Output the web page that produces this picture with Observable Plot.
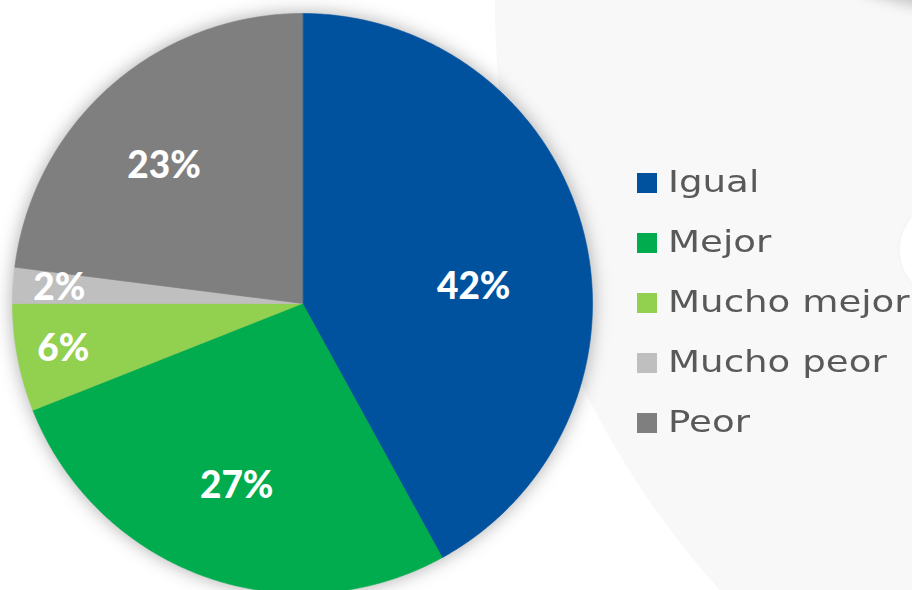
<!DOCTYPE html>
<html>
<head>
<meta charset="utf-8">
<script src="https://cdn.jsdelivr.net/npm/d3@7"></script>
<script src="https://cdn.jsdelivr.net/npm/@observablehq/plot@0.6"></script>
<style>
  html, body { margin: 0; padding: 0; background: #fff; overflow: hidden; }
  #wrap { position: relative; width: 912px; height: 590px; overflow: hidden; background: #fff; }
  .bg { position: absolute; border-radius: 50%; }
  #bg1 { left: 495px; top: -869px; width: 1748px; height: 1748px; background: #f8f8f8; }
  #bg2 { left: 581px; top: -829px; width: 838px; height: 838px; background: #a6a6a6; box-shadow: 0 5px 14px rgba(0,0,0,0.22); }
  #bg3 { left: 900px; top: 200px; width: 100px; height: 100px; background: #fff; box-shadow: 0 0 6px rgba(0,0,0,0.03); }
  #chart { position: absolute; left: 0; top: 0; }
  #legend { position: absolute; left: 0; top: 0; }
  .item { position: absolute; left: 637px; height: 20px; }
  .sw { position: absolute; left: 0; top: 0; width: 20px; height: 20px; }
  .lab { position: absolute; left: 31px; top: -9px; font-family: "DejaVu Sans", sans-serif; font-size: 29.5px; line-height: 36px;
         color: #595959; white-space: nowrap; transform: scaleX(1.26); transform-origin: 0 50%; }
</style>
</head>
<body>
<div id="wrap">
  <div class="bg" id="bg1"></div>
  <div class="bg" id="bg2"></div>
  <div class="bg" id="bg3"></div>
  <div id="chart"></div>
  <div id="legend"></div>
</div>
<script>
// ---- data ----
const categories = ["Igual", "Mejor", "Mucho mejor", "Mucho peor", "Peor"];
const shares = [42, 27, 6, 2, 23];
const colors = ["#00529F", "#00AC4E", "#92D050", "#BFBFBF", "#7F7F7F"];

// ---- layout (not data) ----
const labelNudge = { "Igual": [-17, 32], "Peor": [-10, 8] };

// build slices from the data
const total = d3.sum(shares);
let acc = 0;
const slices = categories.map((c, i) => {
  const a0 = acc / total * 2 * Math.PI;
  acc += shares[i];
  const a1 = acc / total * 2 * Math.PI;
  return { c, v: shares[i], a0, a1 };
});

// polygon outline points for each slice (unit circle, clockwise from top)
const pts = [];
for (const s of slices) {
  pts.push({ c: s.c, x: 0, y: 0 });
  const n = Math.max(2, Math.ceil((s.a1 - s.a0) / (Math.PI / 360)));
  for (let k = 0; k <= n; k++) {
    const a = s.a0 + (s.a1 - s.a0) * k / n;
    pts.push({ c: s.c, x: Math.sin(a), y: Math.cos(a) });
  }
}

const labelData = slices.map(s => {
  const m = (s.a0 + s.a1) / 2;
  const r = s.v / total < 0.1 ? 0.84 : 0.67;
  const nud = labelNudge[s.c] || [0, 0];
  return { c: s.c, text: `${s.v}%`, x: r * Math.sin(m), y: r * Math.cos(m), dx: nud[0], dy: nud[1] };
});

const plot = Plot.plot({
  width: 912,
  height: 590,
  axis: null,
  style: { background: "transparent", overflow: "visible" },
  x: { domain: [-1, 1], range: [12, 592] },
  y: { domain: [-1, 1], range: [593, 13] },
  color: { domain: categories, range: colors },
  marks: [
    Plot.line(pts, { x: "x", y: "y", z: "c", fill: "c", stroke: "c", strokeWidth: 0.6, curve: "linear-closed" }),
    ...labelData.map(d => Plot.text([d], {
      x: "x", y: "y", text: "text", dx: d.dx, dy: d.dy,
      fill: "white", fontSize: 37, fontWeight: 900, fontFamily: "Lato, 'DejaVu Sans', sans-serif"
    }))
  ]
});

const lineG = plot.querySelector('g[aria-label="line"]');
if (lineG) lineG.style.filter = "drop-shadow(0px 0px 9px rgba(0,0,0,0.32))";
document.getElementById("chart").appendChild(plot);

// legend from the same arrays / color scale
const colorScale = plot.scale("color");
const cmap = new Map(colorScale.domain.map((d, i) => [d, colorScale.range[i]]));
const legend = document.getElementById("legend");
categories.forEach((c, i) => {
  const item = document.createElement("div");
  item.className = "item";
  item.style.top = (173 + 60 * i) + "px";
  const sw = document.createElement("div");
  sw.className = "sw";
  sw.style.background = cmap.get(c);
  const lab = document.createElement("div");
  lab.className = "lab";
  lab.textContent = c;
  item.appendChild(sw);
  item.appendChild(lab);
  legend.appendChild(item);
});
</script>
</body>
</html>
